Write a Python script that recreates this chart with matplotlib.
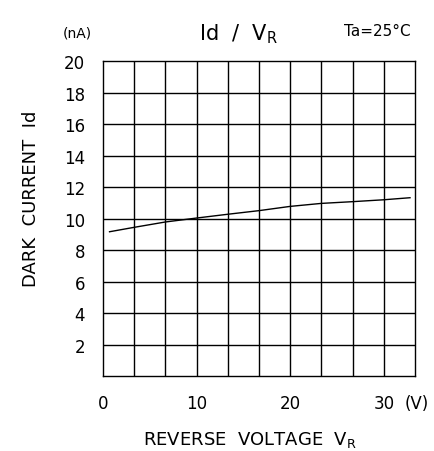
import matplotlib.pyplot as plt
import numpy as np

# 暗电流 vs 反向电压
vr = [0.7, 3.33, 6.67, 10.0, 13.33, 16.67, 20.0, 23.33, 26.67, 30.0, 32.8]
id_na = [9.16, 9.44, 9.78, 10.03, 10.27, 10.5, 10.77, 10.96, 11.07, 11.19, 11.32]

xticks = [0, 10, 20, 30]
xticklabels = ['0', '10', '20', '30']
yticks = [2, 4, 6, 8, 10, 12, 14, 16, 18, 20]

plt.rcParams['font.family'] = ['DejaVu Sans']

fig = plt.figure(figsize=(4.34, 4.52), dpi=100)
ax = fig.add_axes([0.2373, 0.1659, 0.7189, 0.6969])

ax.plot(vr, id_na, color='black', linewidth=1.0)

ax.set_xlim(0, 100 / 3)
ax.set_ylim(0, 20)

# 网格
for gx in np.arange(1, 10) * 10 / 3:
    ax.axvline(gx, color='black', linewidth=1.0)
for gy in yticks[:-1]:
    ax.axhline(gy, color='black', linewidth=1.0)
for s in ax.spines.values():
    s.set_linewidth(1.0)

ax.set_xticks(xticks)
ax.set_xticklabels(xticklabels, fontsize=12)
ax.set_yticks(yticks)
ax.set_yticklabels([str(v) for v in yticks], fontsize=12)
ax.tick_params(length=0, pad=13)
# 单位 (V) 与 30 同一基线
ax.annotate('(V)', xy=(32.2, 0), xytext=(0, -23.0), textcoords='offset points',
            fontsize=12, ha='left', va='baseline', annotation_clip=False)

fig.text(0.55, 0.925, r'Id  /  V$_\mathregular{R}$', fontsize=15, ha='center', va='center')
fig.text(0.87, 0.93, 'Ta=25°C', fontsize=11, ha='center', va='center')
fig.text(0.177, 0.925, '(nA)', fontsize=10, ha='center', va='center')
fig.text(0.575, 0.027, r'REVERSE  VOLTAGE  V$_\mathregular{R}$', fontsize=13, ha='center', va='center')
fig.text(0.072, 0.56, 'DARK  CURRENT  Id', fontsize=13, ha='center', va='center', rotation=90)

fig.savefig('out.png', dpi=100)
